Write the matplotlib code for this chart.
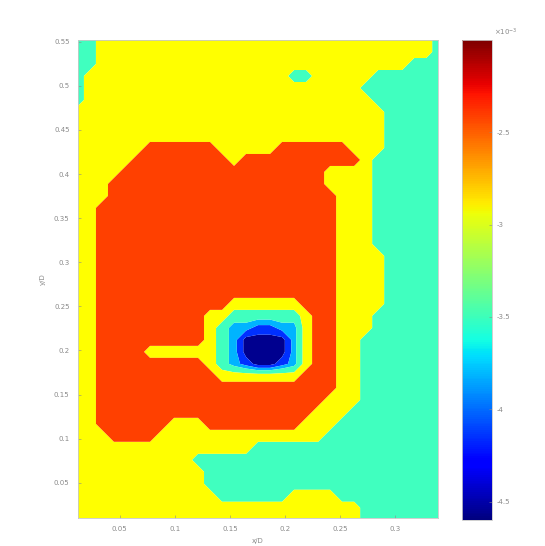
import numpy as np
import matplotlib
matplotlib.use("Agg")
import matplotlib.pyplot as plt
from matplotlib.colors import Normalize
from matplotlib.cm import ScalarMappable

# ---------------- data ----------------
x_limits = (0.012, 0.339)
y_limits = (0.010, 0.552)
grid_x_span = (0.012, 0.339)
grid_y_span = (0.552, 0.008)          # top row first
x_ticks = [0.05, 0.1, 0.15, 0.2, 0.25, 0.3]
x_tick_labels = ["0.05", "0.1", "0.15", "0.2", "0.25", "0.3"]
y_ticks = [0.05, 0.1, 0.15, 0.2, 0.25, 0.3, 0.35, 0.4, 0.45, 0.5, 0.55]
y_tick_labels = ["0.05", "0.1", "0.15", "0.2", "0.25", "0.3", "0.35",
                 "0.4", "0.45", "0.5", "0.55"]
cbar_range = (-4.6, -2.0)             # x 10^-3
cbar_ticks = [-4.5, -4.0, -3.5, -3.0, -2.5]
cbar_tick_labels = ["-4.5", "-4", "-3.5", "-3", "-2.5"]

# band codes -> representative value (x 10^-3)
band_codes = ["D", "B", "C", "T", "Y", "R"]
band_values = [-4.45, -4.10, -3.80, -3.45, -2.95, -2.45]
band_levels = [-4.70, -4.30, -3.95, -3.65, -3.20, -2.70, -2.00]
band_colors = ["#00008F", "#0030FF", "#00B4FF", "#40FFBF", "#FFFF00", "#FF4000"]

# sampled field, run-length coded per row (top row first), 31 columns
field_rows = [
    "T2 Y28 T1",
    "T2 Y28 T1",
    "T2 Y26 T3",
    "T1 Y17 T2 Y5 T6",
    "T1 Y23 T7",
    "T1 Y24 T6",
    "Y26 T5",
    "Y26 T5",
    "Y26 T5",
    "Y6 R6 Y5 R6 Y3 T5",
    "Y5 R8 Y1 R10 Y1 T6",
    "Y4 R17 Y4 T6",
    "Y3 R18 Y4 T6",
    "Y3 R19 Y3 T6",
    "Y2 R20 Y3 T6",
    "Y2 R20 Y3 T6",
    "Y2 R20 Y3 T6",
    "Y2 R20 Y3 T6",
    "Y2 R20 Y4 T5",
    "Y2 R20 Y4 T5",
    "Y2 R20 Y4 T5",
    "Y2 R20 Y4 T5",
    "Y2 R11 Y6 R3 Y4 T5",
    "Y2 R9 Y2 T6 Y1 R2 Y3 T6",
    "Y2 R9 Y1 T1 C2 B2 C2 Y1 R2 Y3 T6",
    "Y2 R9 Y1 T1 C1 D4 C1 Y1 R2 Y2 T7",
    "Y2 R4 Y6 T1 C1 D4 C1 Y1 R2 Y2 T7",
    "Y2 R9 Y1 T1 C1 B1 D2 B1 C1 Y1 R2 Y2 T7",
    "Y2 R10 Y7 R3 Y2 T7",
    "Y2 R20 Y2 T7",
    "Y2 R19 Y3 T7",
    "Y2 R18 Y3 T8",
    "Y2 R6 Y3 R8 Y3 T9",
    "Y3 R4 Y14 T10",
    "Y15 T16",
    "Y10 T21",
    "Y11 T20",
    "Y11 T20",
    "Y12 T6 Y4 T9",
    "Y24 T7",
    "Y24 T7",
]

# ---------------- build field ----------------
code_value = dict(zip(band_codes, band_values))
rows = []
for spec in field_rows:
    row = []
    for tok in spec.split():
        row += [code_value[tok[0]]] * int(tok[1:])
    rows.append(row)
Z = np.array(rows)
ny, nx = Z.shape
gx = np.linspace(grid_x_span[0], grid_x_span[1], nx)
gy = np.linspace(grid_y_span[0], grid_y_span[1], ny)
X, Y = np.meshgrid(gx, gy)

# ---------------- figure ----------------
fig = plt.figure(figsize=(5.45, 5.46), dpi=100)
fig.patch.set_facecolor("white")
ax = fig.add_axes([0.143, 0.0513, 0.661, 0.8754])
ax.contourf(X, Y, Z, levels=band_levels, colors=band_colors, antialiased=True)
ax.set_xlim(*x_limits)
ax.set_ylim(*y_limits)

tick_color = "#8a8a8a"
ax.set_xticks(x_ticks)
ax.set_xticklabels(x_tick_labels)
ax.set_yticks(y_ticks)
ax.set_yticklabels(y_tick_labels)
ax.tick_params(direction="in", length=2, width=0.4, labelsize=5,
               colors=tick_color, pad=6)
for s in ax.spines.values():
    s.set_color("#c8c8c8")
    s.set_linewidth(0.6)
ax.set_xlabel("x/D", fontsize=5, color=tick_color, labelpad=4)
ax.set_ylabel("y/D", fontsize=5, color=tick_color, labelpad=6)

cax = fig.add_axes([0.848, 0.0476, 0.055, 0.879])
sm = ScalarMappable(norm=Normalize(*cbar_range), cmap="jet")
cb = fig.colorbar(sm, cax=cax, ticks=cbar_ticks)
cb.set_ticklabels(cbar_tick_labels)
cb.outline.set_edgecolor("#c8c8c8")
cb.outline.set_linewidth(0.6)
cax.tick_params(direction="in", length=2, width=0.4, labelsize=5,
                colors=tick_color, pad=3)
cax.text(1.05, 1.005, r"$\times10^{-3}$", transform=cax.transAxes,
         fontsize=5, color=tick_color, ha="left", va="bottom")

fig.savefig("out.png", dpi=100, facecolor="white")
